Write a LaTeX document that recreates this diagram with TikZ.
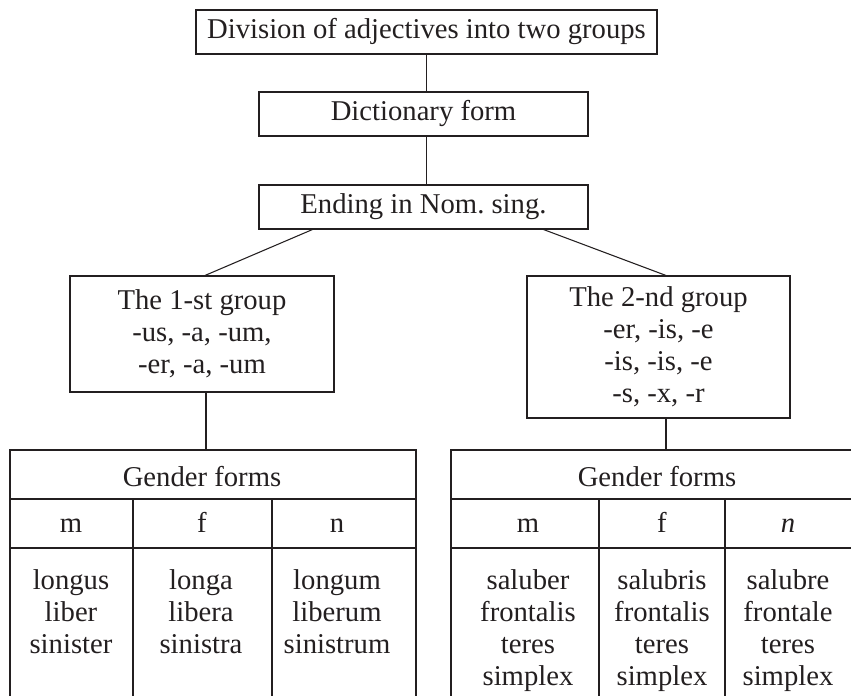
\documentclass[tikz,border=0pt]{standalone}
\usepackage{fontspec}
\setmainfont{Liberation Serif}
\usetikzlibrary{calc}
\definecolor{ink}{HTML}{231F20}
\begin{document}
\begin{tikzpicture}[x=0.75pt,y=-0.75pt,
  line width=0.8pt, draw=ink,
  every node/.style={text=ink, font=\fontsize{21.5}{24}\selectfont, inner sep=0pt, align=center},
  box/.style={draw=ink, rectangle},
  cell/.style={anchor=base},
  body/.style={anchor=north, font=\fontsize{21.5}{24}\selectfont}]
\useasboundingbox (0,0) rectangle (851,696);
\clip (0,0) rectangle (851,696);

% upper chain of boxes
\node[box, minimum width=461*0.75pt, minimum height=44*0.75pt] (top) at (426.5,32) {Division of adjectives into two groups};
\node[box, minimum width=329*0.75pt, minimum height=44*0.75pt] (dict) at (423.5,114) {Dictionary form};
\node[box, minimum width=329*0.75pt, minimum height=44*0.75pt] (end) at (423.5,207) {Ending in Nom.\ sing.};

\node[box, minimum width=264*0.75pt, minimum height=116*0.75pt] (g1) at (202,334) {The 1-st group\\-us, -a, -um,\\-er, -a, -um};
\node[box, minimum width=263*0.75pt, minimum height=142*0.75pt] (g2) at (658.5,347) {The 2-nd group\\-er, -is, -e\\-is, -is, -e\\-s, -x, -r};

% table anchors
\coordinate (t1) at (206,450);
\coordinate (t2) at (666,450);

% connectors
\draw (top.south) -- (top.south |- dict.north);
\draw (top.south |- dict.south) -- (top.south |- end.north);
\draw ($(end.south west)+(54,0)$) -- ($(g1.north)+(3,0)$);
\draw ($(end.south east)+(-45,0)$) -- ($(g2.north)+(7.5,0)$);
\draw ($(g1.south)+(4,0)$) -- (t1);
\draw ($(g2.south)+(7.5,0)$) -- (t2);

% left table
\draw (10,700) -- (10,450) -- (416,450) -- (416,700);
\draw (10,499) -- (416,499);
\draw (10,548) -- (416,548);
\draw (133,499) -- (133,700);
\draw (272,499) -- (272,700);
\node[cell] (lh) at (202,486) {Gender forms};
\node[cell] (lm) at (71,532) {m};
\node[cell] (lf) at (202,532) {f};
\node[cell] (ln) at (337,532) {n};
\node[body] (lb1) at (71,569) {longus\\liber\\sinister};
\node[body] (lb2) at (201,569) {longa\\libera\\sinistra};
\node[body] (lb3) at (337,569) {longum\\liberum\\sinistrum};

% right table
\draw (451,700) -- (451,450) -- (860,450);
\draw (451,499) -- (860,499);
\draw (451,548) -- (860,548);
\draw (599,499) -- (599,700);
\draw (725,499) -- (725,700);
\node[cell] (rh) at (657,486) {Gender forms};
\node[cell] (rm) at (528,532) {m};
\node[cell] (rf) at (662,532) {f};
\node[cell] (rn) at (788,532) {\itshape n};
\node[body] (rb1) at (528,569) {saluber\\frontalis\\teres\\simplex};
\node[body] (rb2) at (662,569) {salubris\\frontalis\\teres\\simplex};
\node[body] (rb3) at (788,569) {salubre\\frontale\\teres\\simplex};
\end{tikzpicture}
\end{document}
